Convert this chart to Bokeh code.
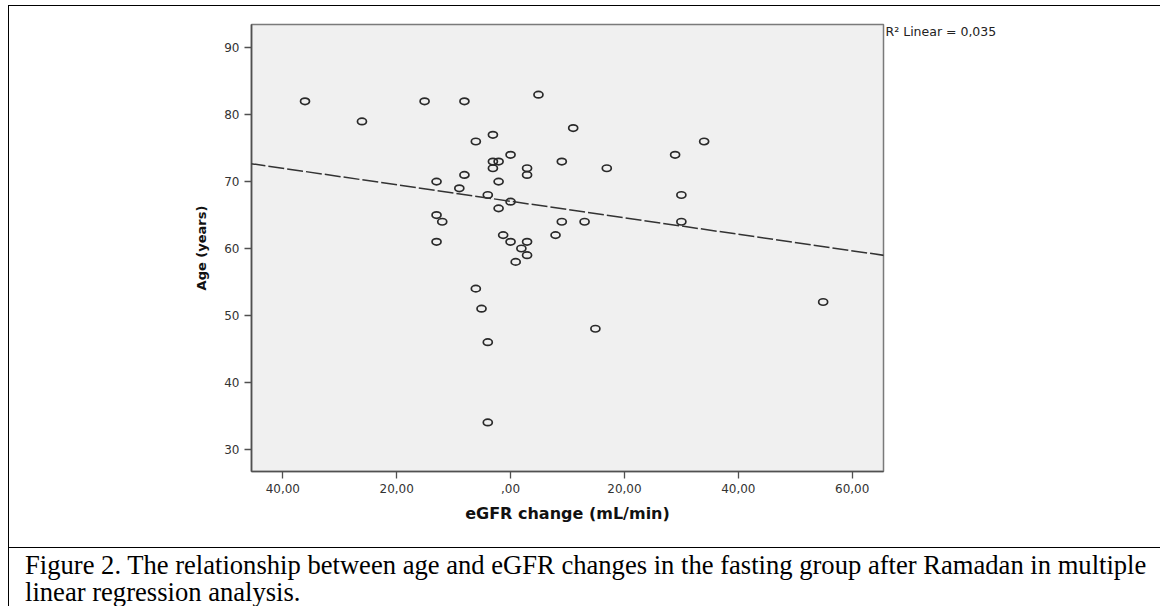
import numpy as np
from bokeh.plotting import figure
from bokeh.models import Range1d, FixedTicker, Label, Slope, LinearAxis
from bokeh.layouts import column
from bokeh.embed import file_html
from bokeh.resources import INLINE

# ---------------- data ----------------
egfr_change = [-36.1, -26.1, -15.1, -8.1, 4.9, 11.0, -3.1, -6.1, 0.0, -3.1,
               -2.1, -3.1, 2.9, 2.9, -8.1, -13.0, -2.1, -9.0, -4.0, 0.0,
               -2.1, -13.0, -12.0, 9.0, 9.0, 13.0, 7.9, -1.3, 0.0, -13.0,
               2.9, 1.9, 2.9, 0.9, 34.0, 28.9, 16.9, 30.0, 30.0, -6.1,
               -5.1, -4.0, -4.0, 14.9, 54.9]
age = [82, 79, 82, 82, 83, 78, 77, 76, 74, 73,
       73, 72, 72, 71, 71, 70, 70, 69, 68, 67,
       66, 65, 64, 73, 64, 64, 62, 62, 61, 61,
       61, 60, 59, 58, 76, 74, 72, 68, 64, 54,
       51, 46, 34, 48, 52]

x_ticks = [-40, -20, 0, 20, 40, 60]
x_tick_labels = ["40,00", "20,00", ",00", "20,00", "40,00", "60,00"]
y_ticks = [30, 40, 50, 60, 70, 80, 90]
y_tick_labels = ["30", "40", "50", "60", "70", "80", "90"]
x_title = "eGFR change (mL/min)"
y_title = "Age (years)"
r2_text = "R\u00b2 Linear = 0,035"
caption_lines = [
    "Figure 2. The relationship between age and eGFR changes in the fasting group after Ramadan in multiple",
    "linear regression analysis.",
]

# ---------------- chart ----------------
W = 1152
p = figure(width=W, height=542,
           x_range=Range1d(-45.5, 65.5), y_range=Range1d(26.66, 93.49),
           output_backend="svg", toolbar_location=None, frame_align=False,
           min_border_left=242, min_border_right=278,
           min_border_top=18, min_border_bottom=77,
           styles={"border-top": "1.5px solid #000", "border-left": "1.5px solid #000"})
p.background_fill_color = "#f0f0f0"
p.border_fill_color = "white"
p.outline_line_color = "#7a7a7a"
p.outline_line_width = 1.5
p.grid.visible = False

for ax in (p.xaxis, p.yaxis):
    ax.axis_line_color = "#505050"
    ax.axis_line_width = 1.6
    ax.major_tick_line_color = "#505050"
    ax.major_tick_line_width = 1.3
    ax.major_tick_out = 7
    ax.major_tick_in = 0
    ax.minor_tick_out = 0
    ax.minor_tick_in = 0
    ax.major_label_standoff = 5
    ax.major_label_text_font = "DejaVu Sans"
    ax.major_label_text_font_size = "12px"
    ax.major_label_text_color = "#333333"
    ax.axis_label_text_font = "DejaVu Sans"
    ax.axis_label_text_font_style = "bold"
    ax.axis_label_text_color = "#111111"

p.xaxis.ticker = FixedTicker(ticks=x_ticks)
p.xaxis.major_label_overrides = dict(zip(x_ticks, x_tick_labels))
p.yaxis.ticker = FixedTicker(ticks=y_ticks)
p.yaxis.major_label_overrides = dict(zip(y_ticks, y_tick_labels))
p.xaxis.axis_label = x_title
p.yaxis.axis_label = y_title
p.xaxis.axis_label_text_font_size = "16px"
p.yaxis.axis_label_text_font_size = "13px"
p.xaxis.axis_label_standoff = 8
p.yaxis.axis_label_standoff = 12

# R^2 note, placed just right of the frame's top-right corner
r2_y = p.y_range.end - 1.1
r2_axis = LinearAxis(ticker=FixedTicker(ticks=[r2_y]),
                     major_label_overrides={r2_y: r2_text},
                     axis_line_color=None, major_tick_line_color=None,
                     minor_tick_line_color=None, major_tick_out=0, major_tick_in=0,
                     major_label_standoff=2,
                     major_label_text_font="DejaVu Sans",
                     major_label_text_font_size="12.5px",
                     major_label_text_color="#222222")
p.add_layout(r2_axis, "right")

# fitted regression line (least squares on the data)
slope, intercept = np.polyfit(egfr_change, age, 1)
p.add_layout(Slope(gradient=slope, y_intercept=intercept,
                   line_color="#333333", line_width=1.5, line_dash="16 3"))

p.ellipse(x=egfr_change, y=age, width=9, height=6.5,
          width_units="screen", height_units="screen",
          fill_color=None, line_color="#2a2a2a", line_width=1.7)

# ---------------- caption ----------------
CH = 59
c = figure(width=W, height=CH, x_range=Range1d(0, W), y_range=Range1d(CH - 1.5, 0),
           output_backend="svg", toolbar_location=None, min_border=0,
           frame_align=False,
           x_axis_location=None, y_axis_location=None,
           styles={"border-top": "1.5px solid #000", "border-left": "1.5px solid #000"})
c.outline_line_color = None
c.background_fill_color = "white"
c.border_fill_color = "white"
c.grid.visible = False
for i, yb in enumerate([16.3, 42.3]):
    c.add_layout(Label(x=15.5, y=yb, text=caption_lines[i],
                       text_font="Liberation Serif", text_font_size="26.6px",
                       text_color="#000000", text_baseline="alphabetic"))

root = column(p, c, margin=(5, 0, 0, 8))
open("out.html", "w").write(file_html(root, INLINE))
